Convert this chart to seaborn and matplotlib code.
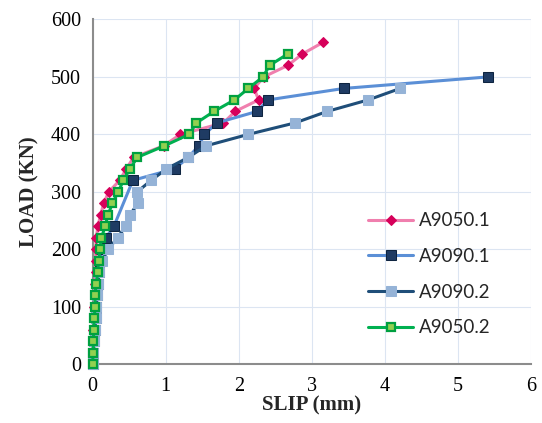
import pandas as pd
import matplotlib
matplotlib.use('Agg')
import matplotlib.pyplot as plt
import seaborn as sns

# load steps (kN) and measured slip (mm) per specimen
load_a9050_1 = [0, 20, 40, 60, 80, 100, 120, 140, 160, 180, 200, 220, 240, 260, 280,
                300, 320, 340, 360, 380, 400, 420, 440, 460, 480, 500, 520, 540, 560]
slip_a9050_1 = [0, 0.0, 0.01, 0.01, 0.02, 0.02, 0.03, 0.03, 0.04, 0.04, 0.04, 0.05, 0.07, 0.11, 0.15,
                0.22, 0.37, 0.46, 0.56, 0.97, 1.20, 1.79, 1.95, 2.27, 2.21, 2.34, 2.67, 2.87, 3.15]

load_a9090_1 = [0, 20, 40, 60, 80, 100, 120, 140, 160, 180, 200, 220, 240,
                320, 340, 360, 380, 400, 420, 440, 460, 480, 500]
slip_a9090_1 = [0, 0.01, 0.02, 0.03, 0.04, 0.05, 0.06, 0.07, 0.08, 0.10, 0.13, 0.18, 0.29,
                0.55, 1.12, 1.31, 1.45, 1.53, 1.70, 2.25, 2.40, 3.44, 5.41]

load_a9090_2 = [0, 20, 40, 60, 80, 100, 120, 140, 160, 180, 200, 220, 240, 260, 280,
                300, 320, 340, 360, 380, 400, 420, 440, 460, 480]
slip_a9090_2 = [0, 0.01, 0.02, 0.03, 0.04, 0.05, 0.06, 0.07, 0.09, 0.13, 0.21, 0.34, 0.45, 0.51, 0.62,
                0.61, 0.80, 1.01, 1.31, 1.55, 2.13, 2.77, 3.21, 3.77, 4.21]

load_a9050_2 = [0, 20, 40, 60, 80, 100, 120, 140, 160, 180, 200, 220, 240, 260,
                280, 300, 320, 340, 360, 380, 400, 420, 440, 460, 480, 500, 520, 540]
slip_a9050_2 = [0, 0.005, 0.01, 0.015, 0.02, 0.035, 0.03, 0.05, 0.07, 0.08, 0.10, 0.12, 0.17, 0.21,
                0.27, 0.35, 0.42, 0.51, 0.61, 0.98, 1.32, 1.42, 1.66, 1.94, 2.13, 2.33, 2.42, 2.67]

series = [
    ('A9050.1', slip_a9050_1, load_a9050_1, dict(color='#F07FAE', marker='D', ms=5.5,
                                                  mfc='#D6005A', mec='#D6005A')),
    ('A9090.1', slip_a9090_1, load_a9090_1, dict(color='#5B8FD6', marker='s', ms=6.5,
                                                  mfc='#1F3B63', mec='#0E2440')),
    ('A9090.2', slip_a9090_2, load_a9090_2, dict(color='#1F4E79', marker='s', ms=6.5,
                                                  mfc='#95B3D7', mec='#95B3D7')),
    ('A9050.2', slip_a9050_2, load_a9050_2, dict(color='#00B050', marker='s', ms=6,
                                                  mfc='#92D050', mec='#00A040', mew=1.6)),
]

sns.set_style('white')
fig = plt.figure(figsize=(5.42, 4.23), dpi=100)
ax = fig.add_axes([0.171, 0.139, 0.809, 0.815])

for name, xs, ys, st in series:
    df = pd.DataFrame({'slip': xs, 'load': ys})
    sns.lineplot(data=df, x='slip', y='load', sort=False, estimator=None, ax=ax,
                 label=name, lw=2.2, clip_on=False, zorder=3, **st)

ax.set_xlim(0, 6)
ax.set_ylim(0, 600)
ax.set_xticks(range(0, 7))
ax.set_yticks(range(0, 601, 100))
ax.grid(True, color='#DCE5F2', lw=0.8)
ax.set_axisbelow(True)
for s in ['top', 'right']:
    ax.spines[s].set_visible(False)
for s in ['left', 'bottom']:
    ax.spines[s].set_color('#8C8C8C')
    ax.spines[s].set_linewidth(1.5)
    ax.spines[s].set_zorder(2)
ax.tick_params(axis='both', direction='out', length=5, width=1.2, color='#8C8C8C',
               labelsize=14.5, labelcolor='black')
ax.tick_params(axis='x', pad=4)
for lab in ax.get_xticklabels() + ax.get_yticklabels():
    lab.set_family('Liberation Serif')

ax.set_xlabel('SLIP (mm)', family='Liberation Serif', fontweight='bold', fontsize=15, labelpad=0)
ax.set_ylabel('LOAD (KN)', family='Liberation Serif', fontweight='bold', fontsize=15, labelpad=8)

leg = ax.legend(loc='upper left', bbox_to_anchor=(0.59, 0.49), frameon=False,
                prop={'family': 'Lato', 'size': 13.5}, handlelength=2.4,
                handletextpad=0.3, labelspacing=1.0)

fig.savefig('out.png', dpi=100)
